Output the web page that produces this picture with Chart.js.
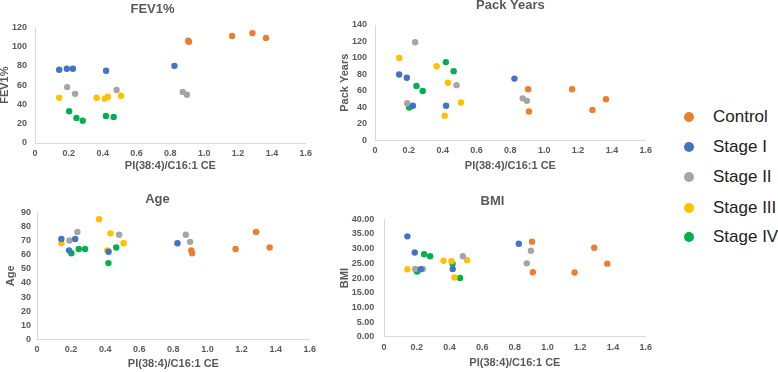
<!DOCTYPE html>
<html>
<head>
<meta charset="utf-8">
<script src="https://cdn.jsdelivr.net/npm/chart.js@4.4.1/dist/chart.umd.min.js"></script>
<style>
  html, body { margin: 0; padding: 0; background: #fff; overflow: hidden; }
  #page { position: relative; width: 778px; height: 372px; }
  .panel { position: absolute; }
  #legend { position: absolute; left: 0; top: 0; font-family: "Liberation Sans", Arial, sans-serif; font-size: 17px; color: #222; }
  .item { position: absolute; left: 684px; height: 20px; line-height: 20px; white-space: nowrap; }
  .dot { position: absolute; left: 0; top: 5px; width: 10px; height: 10px; border-radius: 50%; }
  .lbl { position: absolute; left: 29px; top: 0; }
</style>
</head>
<body>
<div id="page">
  <div id="legend"></div>
</div>
<script>
var groups = ['Control', 'Stage I', 'Stage II', 'Stage III', 'Stage IV'];
var colors = ['#ED7D31', '#4472C4', '#A5A5A5', '#FFC000', '#00B050'];

// PI(38:4)/C16:1 CE per subject, one list per group
var ratio = [
  [0.905, 0.91, 1.165, 1.285, 1.365],
  [0.143, 0.188, 0.224, 0.42, 0.824],
  [0.19, 0.237, 0.482, 0.873, 0.898],
  [0.143, 0.364, 0.412, 0.431, 0.508],
  [0.202, 0.245, 0.282, 0.419, 0.465]
];

var fev1 = [
  [106, 105, 111, 114, 109],
  [76, 77, 77, 75, 80],
  [58, 51, 55, 53, 50],
  [47, 47, 46, 48, 49],
  [33, 26, 23, 28, 27]
];

var packYears = [
  [62, 35, 62, 37, 50],
  [80, 76, 42, 42, 75],
  [45, 119, 67, 51, 48],
  [100, 90, 30, 70, 46],
  [40, 66, 60, 95, 84]
];

var age = [
  [63, 61, 64, 76, 65],
  [71, 63, 71, 62, 68],
  [70, 76, 74, 74, 69],
  [68, 85, 63, 75, 68],
  [61, 64, 64, 54, 65]
];

var bmi = [
  [32.4, 22.0, 21.9, 30.3, 24.9],
  [34.2, 28.7, 23.0, 23.1, 31.7],
  [23.1, 23.1, 27.4, 25.0, 29.3],
  [23.0, 25.9, 25.7, 20.2, 26.1],
  [22.2, 28.1, 27.4, 24.9, 20.0]
];

var xTitle = 'PI(38:4)/C16:1 CE';

Chart.defaults.font.family = '"Liberation Sans", Arial, sans-serif';
Chart.defaults.color = '#595959';

// layout of each panel (position, axis sizes) - not data
var panels = [
  {title: 'FEV1%', values: fev1, yMax: 120, yStep: 20, dec: 0,
   left: -2, top: 0, w: 319, h: 175, yw: 37, ypad: 8, tpad: [1.5, 10.2], full: true, xh: 32},
  {title: 'Pack Years', values: packYears, yMax: 140, yStep: 20, dec: 0,
   left: 338, top: -2, w: 319, h: 177, yw: 37, ypad: 8, tpad: [0, 11.4], full: false, xh: 34.6},
  {title: 'Age', values: age, yMax: 90, yStep: 10, dec: 0,
   left: 4, top: 192, w: 317, h: 181, yw: 33, ypad: 6, tpad: [0, 4.5], full: true, xh: 33.4},
  {title: 'BMI', values: bmi, yMax: 40, yStep: 5, dec: 2,
   left: 338, top: 194, w: 319, h: 178, yw: 46, ypad: 9.7, tpad: [0, 9.7], full: true, xh: 35.2}
];

var page = document.getElementById('page');

panels.forEach(function (p) {
  var c = document.createElement('canvas');
  c.className = 'panel';
  c.width = p.w;
  c.height = p.h;
  c.style.left = p.left + 'px';
  c.style.top = p.top + 'px';
  c.style.width = p.w + 'px';
  c.style.height = p.h + 'px';
  page.appendChild(c);

  var datasets = [];
  for (var g = 0; g < groups.length; g++) {
    var pts = [];
    for (var i = 0; i < ratio[g].length; i++) {
      pts.push({x: ratio[g][i], y: p.values[g][i]});
    }
    datasets.push({
      label: groups[g],
      data: pts,
      backgroundColor: colors[g],
      borderWidth: 0,
      pointRadius: 3.2
    });
  }

  new Chart(c.getContext('2d'), {
    type: 'scatter',
    data: {datasets: datasets},
    options: {
      responsive: false,
      animation: false,
      layout: {padding: {left: 0, right: 10, top: 0, bottom: 0}},
      plugins: {
        legend: {display: false},
        tooltip: {enabled: false},
        title: {
          display: true,
          text: p.title,
          fullSize: p.full,
          color: '#595959',
          font: {size: 13, weight: 'bold'},
          padding: {top: p.tpad[0], bottom: p.tpad[1]}
        }
      },
      scales: {
        x: {
          type: 'linear',
          min: 0,
          max: 1.6,
          grid: {display: false, drawTicks: false},
          border: {display: true, color: '#d9d9d9', width: 1},
          ticks: {stepSize: 0.2, padding: 5, autoSkip: false, maxRotation: 0,
                  font: {size: 9, weight: 'bold'}, color: '#595959'},
          title: {display: true, text: xTitle, color: '#595959',
                  font: {size: 11, weight: 'bold'}, padding: {top: 0, bottom: 2}},
          afterFit: function (s) { s.height = p.xh; }
        },
        y: {
          min: 0,
          max: p.yMax,
          grid: {display: false, drawTicks: false},
          border: {display: true, color: '#d9d9d9', width: 1},
          ticks: {stepSize: p.yStep, padding: p.ypad,
                  font: {size: 9, weight: 'bold'}, color: '#595959',
                  callback: function (v) { return v.toFixed(p.dec); }},
          title: {display: true, text: p.title, color: '#595959',
                  font: {size: 11, weight: 'bold'}, padding: {top: 0, bottom: 0}},
          afterFit: function (s) { s.width = p.yw; }
        }
      }
    }
  });
});

// legend on the right
var legend = document.getElementById('legend');
var rowTop = [107, 137, 167, 198, 227];
for (var g = 0; g < groups.length; g++) {
  var item = document.createElement('div');
  item.className = 'item';
  item.style.top = rowTop[g] + 'px';
  item.innerHTML = '<span class="dot" style="background:' + colors[g] + '"></span>' +
                   '<span class="lbl">' + groups[g] + '</span>';
  legend.appendChild(item);
}
</script>
</body>
</html>
